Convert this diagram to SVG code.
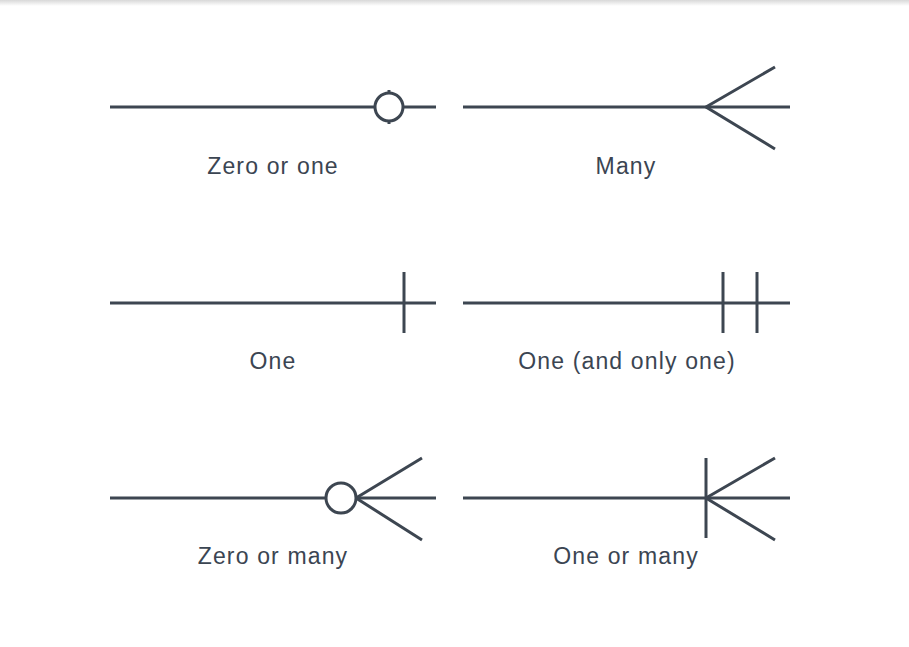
<svg xmlns="http://www.w3.org/2000/svg" width="909" height="647" viewBox="0 0 909 647">
<defs>
<linearGradient id="topShade" x1="0" y1="0" x2="0" y2="1">
<stop offset="0" stop-color="#d8d8d8"/>
<stop offset="1" stop-color="#ffffff"/>
</linearGradient>
</defs>
<style>
.ln{stroke:#3d4651;stroke-width:3;fill:none;stroke-linecap:butt}
.circ{stroke:#3d4651;stroke-width:3;fill:#ffffff}
.lbl{font-family:"Liberation Sans",Arial,sans-serif;font-size:23px;fill:#3b4552;text-anchor:middle;letter-spacing:1.15px}
</style>
<rect width="909" height="647" fill="#ffffff"/>
<rect width="909" height="6" fill="url(#topShade)"/>
<g id="connectors">
<g id="zero-or-one">
<line class="ln" x1="110" y1="107" x2="436" y2="107"/>
<line class="ln" x1="389" y1="90" x2="389" y2="124"/>
<circle class="circ" cx="389" cy="107" r="14"/>
<text class="lbl" x="273" y="174">Zero or one</text>
</g>
<g id="many">
<line class="ln" x1="463" y1="107" x2="790" y2="107"/>
<polyline class="ln" points="775,67 706,107 775,149"/>
<text class="lbl" x="626" y="174">Many</text>
</g>
<g id="one">
<line class="ln" x1="110" y1="303" x2="436" y2="303"/>
<line class="ln" x1="404" y1="272" x2="404" y2="333"/>
<text class="lbl" x="273" y="369">One</text>
</g>
<g id="one-and-only-one">
<line class="ln" x1="463" y1="303" x2="790" y2="303"/>
<line class="ln" x1="723" y1="272" x2="723" y2="333"/>
<line class="ln" x1="757" y1="272" x2="757" y2="333"/>
<text class="lbl" x="627" y="369">One (and only one)</text>
</g>
<g id="zero-or-many">
<line class="ln" x1="110" y1="498" x2="436" y2="498"/>
<polyline class="ln" points="422,458 356,498 422,540"/>
<circle class="circ" cx="341" cy="498" r="15"/>
<text class="lbl" x="273" y="564">Zero or many</text>
</g>
<g id="one-or-many">
<line class="ln" x1="463" y1="498" x2="790" y2="498"/>
<line class="ln" x1="706" y1="458" x2="706" y2="538"/>
<polyline class="ln" points="775,458 706,498 775,540"/>
<text class="lbl" x="626" y="564">One or many</text>
</g>
</g>
</svg>
